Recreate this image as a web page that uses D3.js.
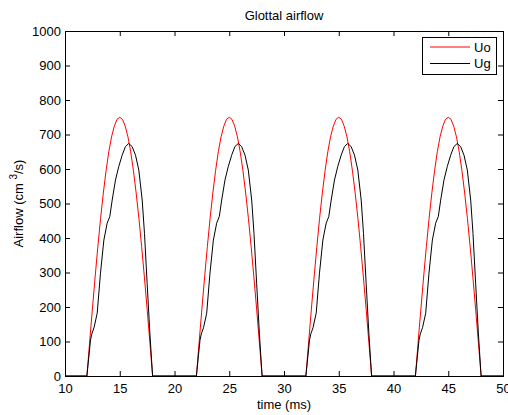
<!DOCTYPE html>
<html><head><meta charset="utf-8">
<script src="https://cdn.jsdelivr.net/npm/d3@7"></script>
<style>
body{margin:0;background:#fff;}
text{font-family:"Liberation Sans",Arial,Helvetica,sans-serif;fill:#000;}
</style></head>
<body><svg id="c" width="508" height="415"></svg>
<script>
// Pulse onsets (ms)
const pulseOnsets = [12, 22, 32, 42];
// Uo (red): time offsets within a pulse (ms) and values (cm^3/s)
const uoOffsets = [0,0.25,0.5,0.75,1,1.25,1.5,1.75,2,2.25,2.5,2.75,3,3.25,3.5,3.75,4,4.25,4.5,4.75,5,5.25,5.5,5.75,6];
const uoValues  = [0,98,194,287,375,457,530,595,650,693,724,744,750,744,724,693,650,595,530,457,375,287,194,98,0];
// Ug (black)
const ugOffsets = [0,0.33,0.45,0.65,0.94,1.24,1.55,1.85,2.09,2.31,2.61,2.91,3.22,3.52,3.82,4.13,4.44,4.74,5.05,5.26,5.5,5.75,6.0];
const ugValues  = [0,104,122,140,182,298,394,443,462,510,568,607,640,665,674,665,640,597,510,413,269,124,0];
const xTicks = [10,15,20,25,30,35,40,45,50];
const yTicks = [0,100,200,300,400,500,600,700,800,900,1000];
const seriesNames = ["Uo","Ug"];
const seriesColors = ["#ff0000","#000000"];

function buildSeries(offs, vals){
  const pts = [[10,0]];
  pulseOnsets.forEach(o => offs.forEach((d,i) => pts.push([o+d, vals[i]])));
  pts.push([50,0]);
  return pts;
}
const uo = buildSeries(uoOffsets, uoValues);
const ug = buildSeries(ugOffsets, ugValues);

const L=65, R=503, T=31, B=376;
const svg = d3.select("#c");
const x = d3.scaleLinear().domain([10,50]).range([L,R]);
const y = d3.scaleLinear().domain([0,1000]).range([B,T]);

svg.append("rect").attr("x",L).attr("y",T).attr("width",R-L).attr("height",B-T).attr("fill","#fff");

const line = d3.line().x(d=>x(d[0])).y(d=>y(d[1]));
svg.append("path").datum(uo).attr("d",line).attr("fill","none").attr("stroke",seriesColors[0]).attr("stroke-width",1);
svg.append("path").datum(ug).attr("d",line).attr("fill","none").attr("stroke",seriesColors[1]).attr("stroke-width",1);

// axes
const fs = 13;
const fmt = d3.format("d");
const gB = svg.append("g").attr("transform",`translate(0,${B})`)
  .call(d3.axisBottom(x).tickValues(xTicks).tickFormat(fmt).tickSizeInner(-5).tickSizeOuter(0).tickPadding(8));
const gT = svg.append("g").attr("transform",`translate(0,${T})`)
  .call(d3.axisTop(x).tickValues(xTicks).tickSizeInner(-5).tickSizeOuter(0).tickFormat(""));
const gL = svg.append("g").attr("transform",`translate(${L},0)`)
  .call(d3.axisLeft(y).tickValues(yTicks).tickFormat(fmt).tickSizeInner(-5).tickSizeOuter(0).tickPadding(4));
const gR = svg.append("g").attr("transform",`translate(${R},0)`)
  .call(d3.axisRight(y).tickValues(yTicks).tickSizeInner(-5).tickSizeOuter(0).tickFormat(""));
[gB,gT,gL,gR].forEach(g=>{
  g.select(".domain").remove();
  g.selectAll("line").attr("stroke","#000");
  g.selectAll("text").attr("font-size",fs).attr("font-family","Liberation Sans, Arial, sans-serif");
});
gB.selectAll("text").attr("dy","0.71em");
svg.append("rect").attr("x",L).attr("y",T).attr("width",R-L).attr("height",B-T)
  .attr("fill","none").attr("stroke","#000").attr("stroke-width",1).attr("shape-rendering","crispEdges");

// title & labels
svg.append("text").attr("x",(L+R)/2).attr("y",20).attr("text-anchor","middle").attr("font-size",13).text("Glottal airflow");
svg.append("text").attr("x",(L+R)/2).attr("y",409).attr("text-anchor","middle").attr("font-size",13).text("time (ms)");
const yl = svg.append("text").attr("transform",`translate(23,${(T+B)/2}) rotate(-90)`).attr("text-anchor","middle").attr("font-size",13);
yl.append("tspan").text("Airflow (cm ");
yl.append("tspan").attr("dy",-6).attr("font-size",10).text("3");
yl.append("tspan").attr("dy",6).text("/s)");

// legend
const lg = svg.append("g");
lg.append("rect").attr("x",422.5).attr("y",37.5).attr("width",74).attr("height",37).attr("fill","#fff").attr("stroke","#000").attr("stroke-width",1);
seriesNames.forEach((n,i)=>{
  const yy = 47 + i*16.5;
  lg.append("line").attr("x1",430).attr("x2",470).attr("y1",yy).attr("y2",yy).attr("stroke",seriesColors[i]).attr("stroke-width",1);
  lg.append("text").attr("x",474).attr("y",yy).attr("dy","0.36em").attr("font-size",13).text(n);
});
</script></body></html>
